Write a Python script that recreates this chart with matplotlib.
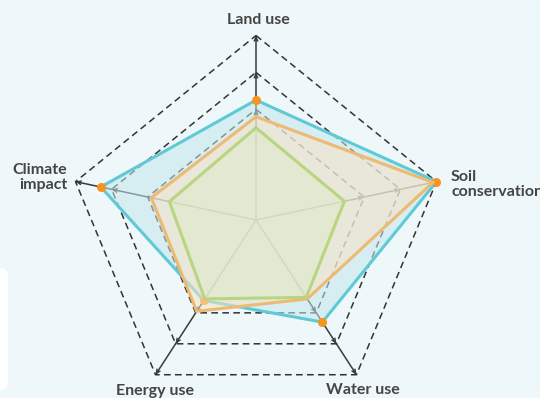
import numpy as np
import matplotlib
matplotlib.use('Agg')
import matplotlib.pyplot as plt
from matplotlib.patches import FancyBboxPatch
from matplotlib.transforms import IdentityTransform

# ---- data ----
categories = ['Land use', 'Soil\nconservation', 'Water use', 'Energy use', 'Climate\nimpact']
axis_angles_deg = [0, 78, 147, 213, 282]      # clockwise from top
ring_levels = [0.6, 0.8, 1.0]
series_blue = [0.65, 1.00, 0.66, 0.52, 0.86]
series_orange = [0.56, 0.98, 0.51, 0.59, 0.58]
series_green = [0.50, 0.49, 0.50, 0.51, 0.48]

# label anchors (theta deg, radius, ha)
label_theta = [0.6, 79.8, 147.9, 210.6, 282.8]
label_r = [1.084, 1.074, 1.09, 1.075, 1.05]
label_ha = ['center', 'left', 'center', 'center', 'right']

BG = '#EEF7F9'
W, H = 540, 398
fig = plt.figure(figsize=(W / 100, H / 100), dpi=100, facecolor=BG)

# white rounded box partially visible at left
box = FancyBboxPatch((-20, 8), 28, 122, boxstyle='round,pad=0,rounding_size=8',
                     transform=IdentityTransform(), fc='white', ec='none')
fig.patches.append(box)

cx, cy, R = 256, 220, 184.5
RMAX = 1.2
rad = R * RMAX
ax = fig.add_axes([(cx - rad) / W, (H - cy - rad) / H, 2 * rad / W, 2 * rad / H],
                  projection='polar')
ax.set_theta_zero_location('N')
ax.set_theta_direction(-1)
ax.set_ylim(0, RMAX)
ax.set_axis_off()

th = np.deg2rad(axis_angles_deg)
thc = np.append(th, th[0])

def closed(v):
    return np.append(v, v[0])

# rings
for lvl in ring_levels:
    ax.plot(thc, [lvl] * len(thc), color='#333333', lw=1.1,
            ls=(0, (4.4, 2.8)), zorder=1)

# spokes with arrow ticks
for a in th:
    ax.plot([a, a], [0, 1.0], color='#3a3a3a', lw=1.1, zorder=1.5,
            solid_capstyle='butt')
    for lvl in ring_levels:
        ax.annotate('', xy=(a, lvl), xytext=(a, lvl - 0.03),
                    arrowprops=dict(arrowstyle='->,head_length=0.28,head_width=0.13',
                                    color='#3a3a3a', lw=1.0, shrinkA=0, shrinkB=0),
                    zorder=1.5)

# series
ax.fill(thc, closed(series_blue), color='#C4E7ED', alpha=0.55, lw=0, zorder=2)
ax.plot(thc, closed(series_blue), color='#5FCAD6', lw=2.2, zorder=2.1,
        solid_joinstyle='miter')
ax.plot(th, series_blue, 'o', color='#F7941D', ms=6.5, mec='none', zorder=2.2)

ax.fill(thc, closed(series_orange), color='#F8E3C6', alpha=0.55, lw=0, zorder=3)
ax.plot(thc, closed(series_orange), color='#EDBA73', lw=2.2, zorder=3.1,
        solid_joinstyle='miter')

ax.fill(thc, closed(series_green), color='#DFEACB', alpha=0.55, lw=0, zorder=4)
ax.plot(thc, closed(series_green), color='#B7D67F', lw=2.2, zorder=4.1,
        solid_joinstyle='miter')

# labels
for name, t, r, ha in zip(categories, label_theta, label_r, label_ha):
    ax.text(np.deg2rad(t), r, name, ha=ha, va='center', fontsize=11.5,
            fontweight='bold', color='#454545', family=['Lato', 'DejaVu Sans'],
            linespacing=1.1, clip_on=False)

fig.savefig('out.png', dpi=100, facecolor=BG)
